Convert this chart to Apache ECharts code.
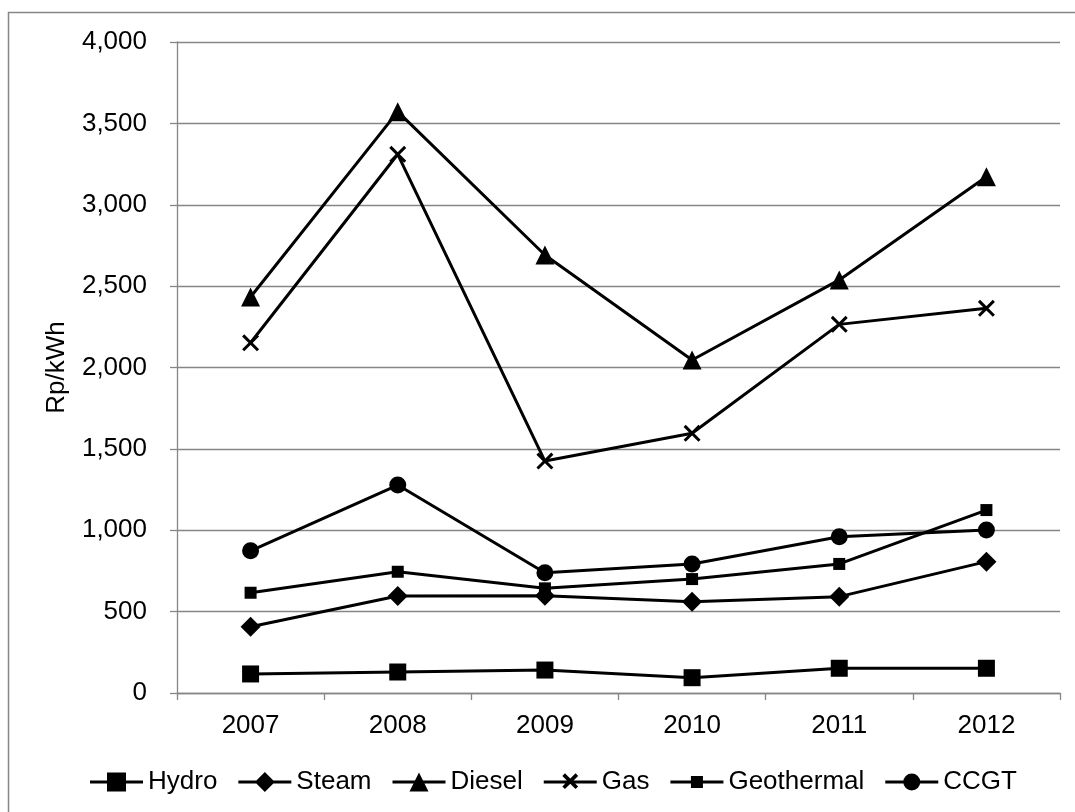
<!DOCTYPE html>
<html>
<head>
<meta charset="utf-8">
<script src="https://cdn.jsdelivr.net/npm/echarts@6/dist/echarts.min.js"></script>
<style>
  html, body { margin: 0; padding: 0; background: #fff; }
  #chart { width: 1075px; height: 812px; }
</style>
</head>
<body>
<div id="chart"></div>
<script>
// Generation cost by plant type, Rp/kWh
const years = ['2007', '2008', '2009', '2010', '2011', '2012'];
const hydro = [117, 129, 141, 94, 152, 152];
const steam = [407, 596, 598, 561, 592, 807];
const diesel = [2433, 3572, 2691, 2046, 2538, 3172];
const gas = [2152, 3310, 1425, 1596, 2265, 2364];
const geothermal = [616, 745, 643, 700, 793, 1124];
const ccgt = [874, 1278, 739, 793, 960, 1002];

const FONT = '"Liberation Sans", Arial, sans-serif';
const AXIS_GREY = '#868686';

// X-shaped marker built from two filled bars
const CROSS = 'path://M0 2 L2 0 L16 14 L14 16 Z M14 0 L16 2 L2 16 L0 14 Z';

// Legend icons: a horizontal line with the series marker on top (53 x 24 box)
const CORNERS = 'M0 0 L0.01 0 L0 0.01 Z M53 24 L52.99 24 L53 23.99 Z ';
const LINE = 'M0 10.5 L53 10.5 L53 13.5 L0 13.5 Z ';
const icons = {
  Hydro: 'path://' + CORNERS + LINE + 'M17 2.5 L36 2.5 L36 21.5 L17 21.5 Z',
  Steam: 'path://' + CORNERS + LINE + 'M26.5 2 L36.5 12 L26.5 22 L16.5 12 Z',
  Diesel: 'path://' + CORNERS + LINE + 'M26.5 2.5 L36 21.5 L17 21.5 Z',
  Gas: 'path://' + CORNERS + LINE +
    'M18.6 5.9 L21.2 3.3 L34.4 16.5 L31.8 19.1 Z M31.8 3.3 L34.4 5.9 L21.2 19.1 L18.6 16.5 Z',
  Geothermal: 'path://' + CORNERS + LINE + 'M20.5 6 L32.5 6 L32.5 18 L20.5 18 Z',
  CCGT: 'path://' + CORNERS + LINE +
    'M26.5 3.5 A8.5 8.5 0 1 1 26.49 3.5 Z'
};

function lineSeries(name, data, symbol, size) {
  return {
    name: name,
    type: 'line',
    data: data,
    symbol: symbol,
    symbolSize: size,
    showAllSymbol: true,
    color: '#000',
    lineStyle: { color: '#000', width: 3 },
    itemStyle: { color: '#000', borderWidth: 0 },
    emphasis: { disabled: true },
    animation: false,
    z: 3
  };
}

const series = [
  lineSeries('Hydro', hydro, 'rect', 17),
  lineSeries('Steam', steam, 'diamond', 20),
  lineSeries('Diesel', diesel, 'triangle', 19),
  lineSeries('Gas', gas, CROSS, 17),
  lineSeries('Geothermal', geothermal, 'rect', 12),
  lineSeries('CCGT', ccgt, 'circle', 17)
];

const chart = echarts.init(document.getElementById('chart'), null, { renderer: 'canvas' });
chart.setOption({
  backgroundColor: '#fff',
  animation: false,
  textStyle: { fontFamily: FONT, color: '#000' },
  graphic: [{
    type: 'rect',
    shape: { x: 8.5, y: 12.5, width: 1200, height: 900 },
    style: { fill: 'none', stroke: AXIS_GREY, lineWidth: 1.5 },
    silent: true,
    z: -1
  }],
  grid: { left: 177, right: 15, top: 42, bottom: 119, containLabel: false },
  legend: {
    left: 85,
    top: 764,
    itemWidth: 53,
    itemHeight: 24,
    itemGap: 21,
    selectedMode: false,
    itemStyle: { borderWidth: 0 },
    textStyle: { fontFamily: FONT, fontSize: 26, color: '#000', padding: [0, 0, 0, 0] },
    data: series.map(s => ({ name: s.name, icon: icons[s.name] }))
  },
  xAxis: {
    type: 'category',
    data: years,
    boundaryGap: true,
    axisLine: { show: true, lineStyle: { color: AXIS_GREY, width: 1.3 } },
    axisTick: { show: true, inside: false, length: 7, alignWithLabel: false,
      lineStyle: { color: AXIS_GREY, width: 1.3 } },
    axisLabel: { fontFamily: FONT, fontSize: 26, color: '#000', margin: 20 },
    splitLine: { show: false }
  },
  yAxis: {
    type: 'value',
    min: 0,
    max: 4000,
    interval: 500,
    name: 'Rp/kWh',
    nameLocation: 'middle',
    nameGap: 107,
    nameTextStyle: { fontFamily: FONT, fontSize: 26, color: '#000' },
    axisLine: { show: true, lineStyle: { color: AXIS_GREY, width: 1.3 } },
    axisTick: { show: true, inside: false, length: 7, lineStyle: { color: AXIS_GREY, width: 1.3 } },
    axisLabel: { fontFamily: FONT, fontSize: 26, color: '#000', margin: 30 },
    splitLine: { show: true, lineStyle: { color: AXIS_GREY, width: 1.3 } }
  },
  series: series
});
</script>
</body>
</html>
